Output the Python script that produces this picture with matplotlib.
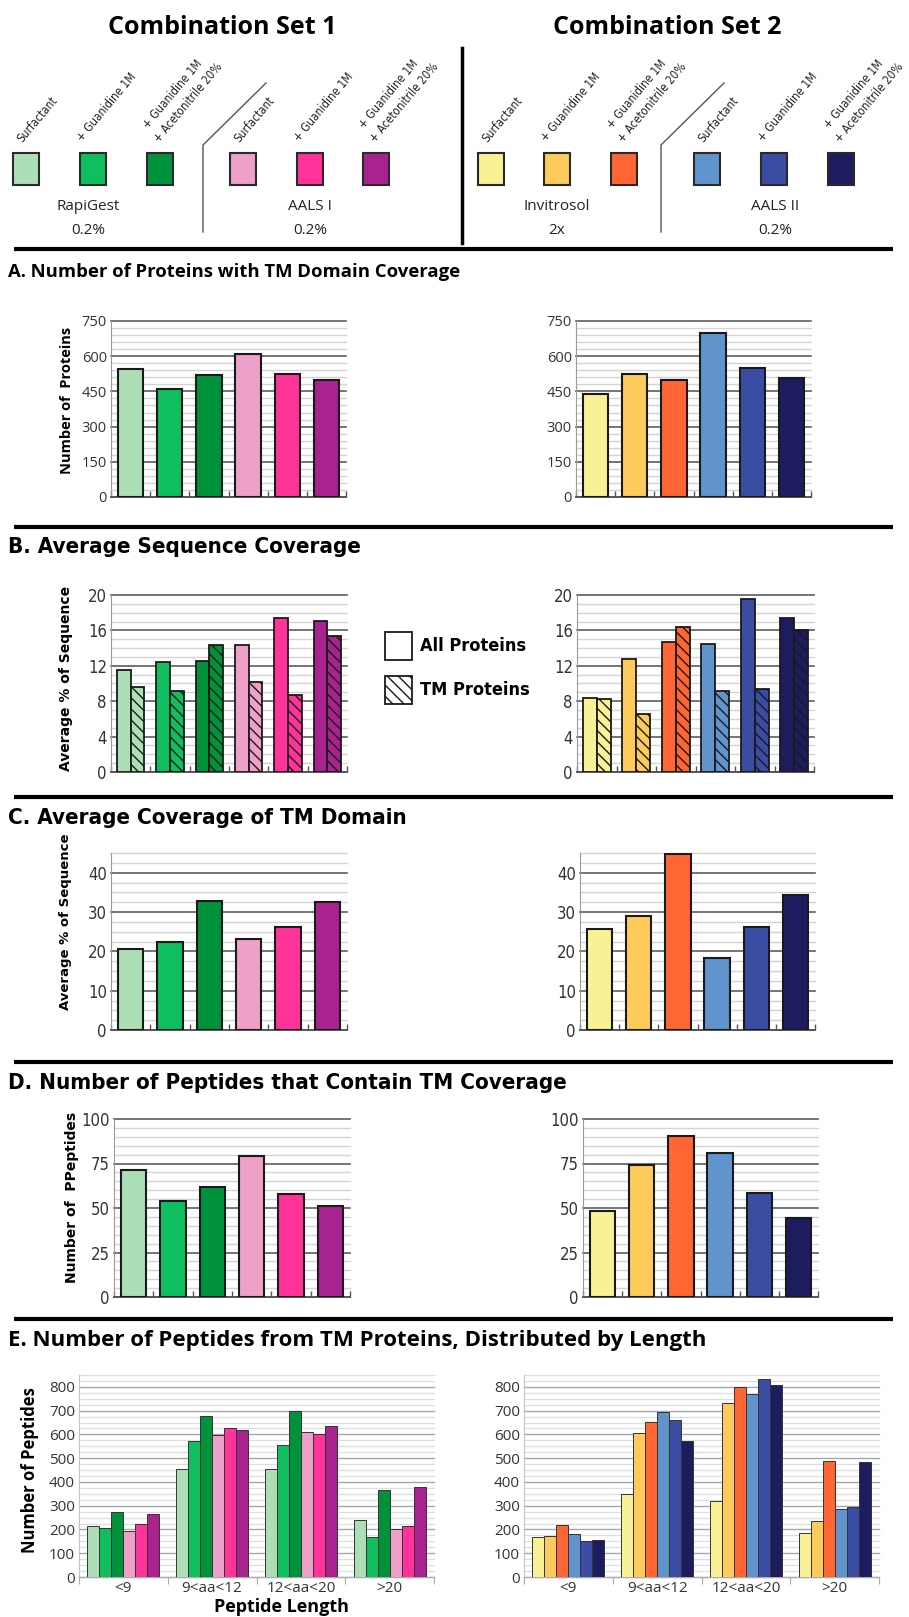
import numpy as np
import matplotlib
matplotlib.use('Agg')
import matplotlib.pyplot as plt
from matplotlib import font_manager
from matplotlib.font_manager import FontProperties
from matplotlib.patches import Rectangle

# condition names and colours for the two combination sets
conditions = ['Surfactant', '+ Guanidine 1M', '+ Guanidine 1M', '+ Acetonitrile 20%']
set1_colors = ['#acdfb6', '#0fbf5f', '#00923b', '#eea0c8', '#ff3399', '#a8238e']
set2_colors = ['#f8f195', '#fdcb5b', '#ff6633', '#6193cd', '#3a4da3', '#1d1c5e']
set1_groups = ['RapiGest', 'AALS I']
set1_conc = ['0.2%', '0.2%']
set2_groups = ['Invitrosol', 'AALS II']
set2_conc = ['2x', '0.2%']

# A. proteins with TM domain coverage
tm_proteins_set1 = [545, 460, 518, 611, 524, 498]
tm_proteins_set2 = [439, 525, 497, 699, 549, 508]

# B. average sequence coverage (all proteins / TM proteins)
seq_all_set1 = [11.5, 12.4, 12.5, 14.3, 17.4, 17.1]
seq_tm_set1 = [9.6, 9.1, 14.4, 10.2, 8.7, 15.4]
seq_all_set2 = [8.4, 12.8, 14.7, 14.5, 19.5, 17.4]
seq_tm_set2 = [8.2, 6.5, 16.4, 9.1, 9.4, 16.0]

# C. average coverage of TM domain
tm_domain_set1 = [20.7, 22.3, 32.8, 23.2, 26.3, 32.5]
tm_domain_set2 = [25.8, 29.1, 44.7, 18.3, 26.3, 34.4]

# D. peptides containing TM coverage
tm_peptides_set1 = [71.3, 54.1, 61.8, 79.4, 57.6, 51.1]
tm_peptides_set2 = [48.5, 74.3, 90.2, 80.7, 58.4, 44.6]

# E. peptides from TM proteins by length, one row per length bin
length_bins = ['<9', '9<aa<12', '12<aa<20', '>20']
length_set1 = [[215, 208, 274, 195, 225, 267],
               [453, 573, 678, 599, 629, 618],
               [455, 557, 699, 611, 601, 636],
               [241, 168, 365, 204, 216, 378]]
length_set2 = [[167, 174, 220, 182, 152, 157],
               [351, 608, 654, 695, 661, 573],
               [321, 734, 799, 772, 832, 810],
               [187, 237, 490, 285, 295, 483]]


def condensed_file(bold):
    # pick a narrow/condensed face if the system has one
    best, best_rank = None, None
    for f in font_manager.fontManager.ttflist:
        if f.style != 'normal':
            continue
        stretch = str(f.stretch)
        by_name = any(s in f.name for s in ('Narrow', 'Condensed', 'Cond'))
        if 'condensed' not in stretch and not by_name:
            continue
        w = f.weight if isinstance(f.weight, (int, float)) else font_manager.weight_dict.get(f.weight, 400)
        target = 700 if bold else 400
        rank = (abs(w - target), 0 if stretch == 'condensed' else 1)
        if best_rank is None or rank < best_rank:
            best, best_rank = f.fname, rank
    if best_rank is not None and best_rank[0] > 150:
        return None
    return best


cond_regular = condensed_file(False)
cond_bold = condensed_file(True)


def cfp(size, bold=False):
    fname = cond_bold if bold else cond_regular
    if fname:
        return FontProperties(fname=fname, size=size)
    return FontProperties(family='Liberation Sans', weight='bold' if bold else 'normal', size=size * 0.88)


sans = 'Open Sans'
wide = 'DejaVu Sans'

W, H = 909, 1617
fig = plt.figure(figsize=(W / 100, H / 100), dpi=100)

# full-figure layer in pixel units for headings, rules and the key
ov = fig.add_axes([0, 0, 1, 1])
ov.set_xlim(0, W)
ov.set_ylim(H, 0)
ov.axis('off')


def px_axes(x0, y0, x1, y1):
    return fig.add_axes([x0 / W, 1 - y1 / H, (x1 - x0) / W, (y1 - y0) / H])


def style_axes(ax, ymax, major, minor, tick_fp):
    ax.set_xlim(-0.5, 5.5)
    ax.set_ylim(0, ymax)
    ax.set_yticks(np.arange(0, ymax + 0.001, major))
    ax.set_yticks(np.arange(0, ymax + 0.001, minor), minor=True)
    ax.set_xticks(np.arange(-0.5, 6, 1))
    ax.set_xticklabels([])
    ax.grid(axis='y', which='major', color='#5e5e5e', lw=1.2)
    ax.grid(axis='y', which='minor', color='#d4d4d4', lw=1.0)
    ax.set_axisbelow(True)
    ax.tick_params(axis='y', which='both', length=0, pad=3, labelcolor='#333333')
    ax.tick_params(axis='x', direction='in', length=4, color='#555555', width=1)
    for lbl in ax.get_yticklabels():
        lbl.set_fontproperties(tick_fp)
    ax.spines[['top', 'right']].set_visible(False)
    ax.spines['left'].set_color('#9a9a9a')
    ax.spines['bottom'].set_color('#555555')
    ax.spines['bottom'].set_linewidth(1.3)
    for t in ax.yaxis.get_major_ticks() + ax.yaxis.get_minor_ticks():
        t.gridline.set_clip_on(False)


def single_panel(box, vals, colors, ymax, major, minor, tick_fp):
    ax = px_axes(*box)
    ax.bar(np.arange(6), vals, width=0.65, color=colors, edgecolor='#1a1a1a', linewidth=1.5, zorder=3)
    style_axes(ax, ymax, major, minor, tick_fp)
    return ax


def paired_panel(box, all_vals, tm_vals, colors):
    ax = px_axes(*box)
    x = np.arange(6)
    ax.bar(x - 0.175, all_vals, width=0.35, color=colors, edgecolor='#1a1a1a', linewidth=1.3, zorder=3)
    ax.bar(x + 0.175, tm_vals, width=0.35, color=colors, edgecolor='#1a1a1a', linewidth=1.3,
           hatch='\\\\\\', zorder=3)
    style_axes(ax, 20, 4, 1, cfp(12))
    return ax


def length_panel(box, rows, colors):
    ax = px_axes(*box)
    x = np.arange(len(length_bins))
    w = 0.135
    for j in range(6):
        vals = [row[j] for row in rows]
        ax.bar(x + (j - 2.5) * w, vals, width=w, color=colors[j], edgecolor='#333333', linewidth=0.7, zorder=3)
    ax.set_xlim(-0.5, 3.5)
    ax.set_ylim(0, 850)
    ax.set_yticks(np.arange(0, 801, 100))
    ax.set_yticks(np.arange(0, 851, 25), minor=True)
    ax.set_xticks(np.arange(-0.5, 4, 1))
    ax.set_xticklabels([])
    ax.set_xticks(x, minor=True)
    ax.set_xticklabels(length_bins, minor=True, family=sans, fontsize=11, color='#333333')
    ax.grid(axis='y', which='major', color='#a8a8a8', lw=1.0)
    ax.grid(axis='y', which='minor', color='#dedede', lw=0.9)
    ax.set_axisbelow(True)
    ax.tick_params(axis='y', which='both', length=0, pad=3, labelsize=11, labelcolor='#333333')
    ax.tick_params(axis='x', which='major', direction='out', length=5, color='#aaaaaa')
    ax.tick_params(axis='x', which='minor', length=0, pad=3)
    for lbl in ax.get_yticklabels():
        lbl.set_family(sans)
    ax.spines[['top', 'right']].set_visible(False)
    ax.spines['left'].set_color('#c4c4c4')
    ax.spines['bottom'].set_color('#aaaaaa')
    for t in ax.yaxis.get_major_ticks() + ax.yaxis.get_minor_ticks():
        t.gridline.set_clip_on(False)
    return ax


# ---- header with the condition key ----
ov.text(222, 27, 'Combination Set 1', ha='center', va='center', fontsize=18, fontweight='bold', family=sans)
ov.text(667, 27, 'Combination Set 2', ha='center', va='center', fontsize=18, fontweight='bold', family=sans)
ov.plot([462, 462], [48, 243], color='black', lw=2.5)
for xs in (203, 661):
    ov.plot([xs, xs, xs + 63], [232, 145, 83], color='#555555', lw=1)

square_x = [13, 80, 147, 230, 297, 363, 478, 544, 611, 694, 761, 828]
square_colors = set1_colors + set2_colors
for sx, c in zip(square_x, square_colors):
    ov.add_patch(Rectangle((sx, 153), 26, 32, facecolor=c, edgecolor='#2a2a2a', lw=1.5))

label_kw = dict(rotation=50, rotation_mode='anchor', ha='left', va='baseline',
                fontproperties=cfp(8.4), color='#222222')
for i, sx in enumerate(square_x):
    k = i % 3
    if k == 0:
        ov.text(sx + 9, 143, conditions[0], **label_kw)
    elif k == 1:
        ov.text(sx + 2, 142, conditions[1], **label_kw)
    else:
        ov.text(sx + 1, 129, conditions[2], **label_kw)
        ov.text(sx + 12, 143, conditions[3], **label_kw)

name_x = [88, 310, 557, 775]
for nx, name, conc in zip(name_x, set1_groups + set2_groups, set1_conc + set2_conc):
    ov.text(nx, 207, name, ha='center', va='center', family=sans, fontsize=11, color='#222222')
    ov.text(nx, 230, conc, ha='center', va='center', family=sans, fontsize=11, color='#222222')

# section rules and titles
for ry in (249, 527, 797, 1062, 1319):
    ov.plot([14, 893], [ry, ry], color='black', lw=3, solid_capstyle='butt')

title_cond = cfp(16, bold=True)
ov.text(8, 272, 'A. Number of Proteins with TM Domain Coverage', ha='left', va='center',
        fontsize=13.3, fontweight='bold', family=sans)
ov.text(8, 547, 'B. Average Sequence Coverage', ha='left', va='center', fontproperties=title_cond)
ov.text(8, 818, 'C. Average Coverage of TM Domain', ha='left', va='center', fontproperties=title_cond)
ov.text(8, 1083, 'D. Number of Peptides that Contain TM Coverage', ha='left', va='center',
        fontproperties=title_cond)
ov.text(8, 1340, 'E. Number of Peptides from TM Proteins, Distributed by Length', ha='left', va='center',
        fontsize=16, fontweight='bold', family=sans)

# ---- A ----
a_tick = FontProperties(family=sans, size=10.5)
single_panel((111, 321, 346, 497), tm_proteins_set1, set1_colors, 750, 150, 30, a_tick)
single_panel((576, 321, 811, 497), tm_proteins_set2, set2_colors, 750, 150, 30, a_tick)
ov.text(67, 400, 'Number of  Proteins', rotation=90, ha='center', va='center',
        fontsize=10.5, fontweight='bold', family=sans)

# ---- B ----
paired_panel((111, 595, 347, 772), seq_all_set1, seq_tm_set1, set1_colors)
paired_panel((577, 595, 814, 772), seq_all_set2, seq_tm_set2, set2_colors)
ov.text(66, 678, 'Average % of Sequence', rotation=90, ha='center', va='center',
        fontsize=10, fontweight='bold', family=wide)
ov.add_patch(Rectangle((385, 632), 27, 28, facecolor='white', edgecolor='#1a1a1a', lw=1.3))
ov.add_patch(Rectangle((385, 676), 27, 28, facecolor='white', edgecolor='#1a1a1a', lw=1.3,
                       hatch='\\\\\\'))
ov.text(420, 646, 'All Proteins', ha='left', va='center', fontproperties=cfp(13, bold=True))
ov.text(420, 690, 'TM Proteins', ha='left', va='center', fontproperties=cfp(13, bold=True))

# ---- C ----
single_panel((111, 853, 347, 1030), tm_domain_set1, set1_colors, 45, 10, 2.5, cfp(12))
single_panel((580, 853, 815, 1030), tm_domain_set2, set2_colors, 45, 10, 2.5, cfp(12))
ov.text(66, 922, 'Average % of Sequence', rotation=90, ha='center', va='center',
        fontsize=9.5, fontweight='bold', family=wide)

# ---- D ----
single_panel((114, 1119, 350, 1297), tm_peptides_set1, set1_colors, 100, 25, 5, cfp(12))
single_panel((583, 1119, 818, 1297), tm_peptides_set2, set2_colors, 100, 25, 5, cfp(12))
ov.text(72, 1197, 'Number of  PPeptides', rotation=90, ha='center', va='center',
        fontsize=10, fontweight='bold', family=wide)

# ---- E ----
length_panel((79, 1375, 434, 1577), length_set1, set1_colors)
length_panel((524, 1375, 879, 1577), length_set2, set2_colors)
ov.text(30, 1470, 'Number of Peptides', rotation=90, ha='center', va='center',
        fontsize=12, fontweight='bold', family=sans)
ov.text(282, 1616, 'Peptide Length', ha='center', va='bottom',
        fontsize=13, fontweight='bold', family=sans)

fig.savefig('out.png', dpi=100)
